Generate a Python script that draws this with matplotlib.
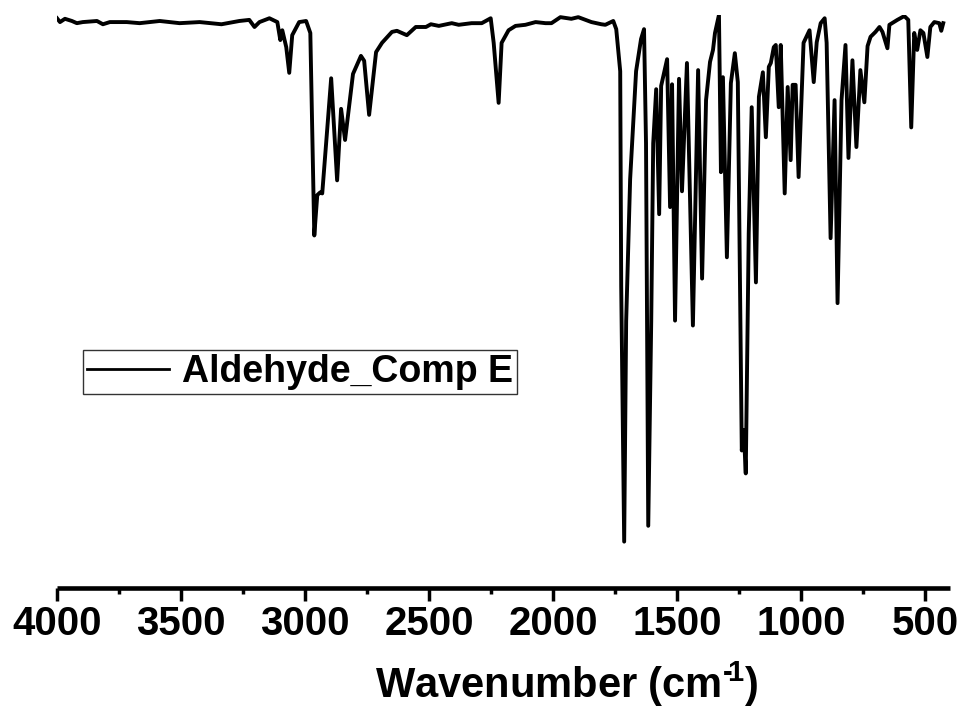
import matplotlib
matplotlib.use("Agg")
import matplotlib.pyplot as plt
import numpy as np

plt.rcParams['font.family'] = ['Liberation Sans', 'DejaVu Sans']
plt.rcParams['font.weight'] = 'bold'
plt.rcParams['mathtext.fontset'] = 'custom'
plt.rcParams['mathtext.rm'] = 'Liberation Sans:bold'
plt.rcParams['mathtext.bf'] = 'Liberation Sans:bold'
plt.rcParams['mathtext.default'] = 'bf'

# IR spectrum (wavenumber in cm-1, transmittance in %)
wavenumber = [4000, 3988, 3968, 3940, 3920, 3896, 3839, 3815, 3787, 3719,
              3667, 3586, 3506, 3425, 3337, 3265, 3225, 3204, 3184, 3144,
              3112, 3100, 3092, 3076, 3064, 3052, 3024, 2996, 2979, 2963,
              2951, 2939, 2931, 2895, 2871, 2855, 2839, 2807, 2775, 2762,
              2742, 2714, 2690, 2650, 2630, 2590, 2554, 2513, 2493, 2461,
              2409, 2381, 2329, 2288, 2252, 2240, 2220, 2208, 2180, 2152,
              2112, 2071, 2031, 2007, 1971, 1927, 1899, 1846, 1806, 1790,
              1758, 1746, 1730, 1726, 1714, 1706, 1690, 1666, 1646, 1634,
              1626, 1617, 1605, 1597, 1585, 1573, 1565, 1541, 1529, 1521,
              1509, 1493, 1481, 1461, 1437, 1416, 1400, 1384, 1368, 1356,
              1348, 1332, 1324, 1316, 1300, 1284, 1268, 1256, 1240, 1232,
              1224, 1212, 1200, 1183, 1171, 1155, 1143, 1131, 1123, 1111,
              1103, 1091, 1083, 1067, 1055, 1043, 1035, 1023, 1011, 991,
              967, 950, 938, 922, 906, 898, 882, 866, 854, 838,
              822, 810, 794, 778, 762, 746, 733, 721, 701, 685,
              673, 653, 645, 613, 585, 569, 557, 545, 533, 520,
              508, 492, 480, 464, 444, 436, 428]
transmittance = [99.4, 98.7, 99.3, 98.9, 98.5, 98.7, 98.9, 98.3, 98.7, 98.7,
                 98.5, 98.9, 98.5, 98.7, 98.3, 98.9, 99.1, 97.8, 98.7, 99.4,
                 98.7, 95.4, 97.2, 94.1, 89.4, 96.3, 98.7, 98.9, 96.7, 59.6,
                 67.0, 67.5, 67.3, 88.4, 69.7, 82.8, 77.1, 89.2, 92.5, 91.6,
                 81.7, 93.2, 94.9, 96.9, 97.1, 96.3, 97.8, 97.8, 98.3, 98.0,
                 98.5, 98.2, 98.5, 98.5, 99.4, 94.9, 83.9, 94.9, 97.2, 98.0,
                 98.2, 98.7, 98.5, 98.5, 99.6, 99.3, 99.6, 98.7, 98.3, 98.2,
                 98.9, 97.4, 89.7, 50.3, 3.5, 43.9, 69.9, 89.7, 95.6, 97.4,
                 76.5, 6.4, 43.9, 76.5, 86.4, 63.5, 87.0, 91.9, 64.8, 87.3,
                 44.0, 88.3, 67.7, 91.2, 43.1, 89.9, 51.7, 84.4, 91.4, 93.6,
                 96.7, 100.0, 71.2, 88.6, 55.6, 87.5, 93.0, 87.7, 20.2, 23.9,
                 16.0, 60.0, 83.1, 51.0, 85.0, 89.5, 77.6, 90.5, 91.2, 94.1,
                 94.5, 83.1, 94.5, 67.3, 86.8, 73.4, 87.2, 87.2, 70.3, 94.9,
                 97.2, 87.7, 95.0, 98.5, 99.4, 94.9, 59.1, 84.4, 47.2, 84.4,
                 94.5, 73.8, 91.7, 75.8, 89.9, 84.0, 94.3, 96.0, 96.9, 97.8,
                 96.9, 93.9, 98.2, 99.1, 99.8, 99.1, 79.4, 96.7, 93.6, 97.2,
                 96.7, 92.3, 97.8, 98.7, 98.5, 97.1, 98.5]

major_ticks = [4000, 3500, 3000, 2500, 2000, 1500, 1000, 500]
minor_ticks = [3750, 3250, 2750, 2250, 1750, 1250, 750]

fig = plt.figure(figsize=(9.63, 7.10), dpi=100)
ax = fig.add_axes([0.0592, 0.1718, 0.9275, 0.8071])

ax.plot(wavenumber, transmittance, '-k', lw=2.8, label="Aldehyde_Comp E",
        solid_joinstyle='round')

ax.set_xlim(4000, 400)
ax.set_ylim(-5, 100)

for side in ['top', 'left', 'right']:
    ax.spines[side].set_visible(False)
ax.spines['bottom'].set_linewidth(3.3)
ax.spines['bottom'].set_capstyle('butt')

ax.set_yticks([])
ax.set_xticks(major_ticks)
ax.set_xticks(minor_ticks, minor=True)
ax.tick_params(axis='x', which='major', direction='out', length=9, width=2.5,
               pad=3, labelsize=29)
ax.tick_params(axis='x', which='minor', direction='out', length=4, width=2.5)
for lbl in ax.get_xticklabels():
    lbl.set_fontweight('bold')

# hyphen (not a minus sign) in the superscript, as in the original
ax.set_xlabel("Wavenumber (cm$^{\u2010\\!1}$)", fontsize=30, fontweight='bold')
ax.xaxis.set_label_coords(0.57, -0.125)

leg = ax.legend(loc='upper left', bbox_to_anchor=(83 / 963, 1 - 350 / 710),
                bbox_transform=fig.transFigure, fancybox=False, frameon=True,
                edgecolor='black', prop={'size': 27, 'weight': 'bold'},
                handlelength=2.2, handletextpad=0.35, borderpad=0.1,
                borderaxespad=0)
leg.get_frame().set_linewidth(1.0)
leg.get_lines()[0].set_linewidth(2.0)

fig.savefig("out.png", dpi=100)
